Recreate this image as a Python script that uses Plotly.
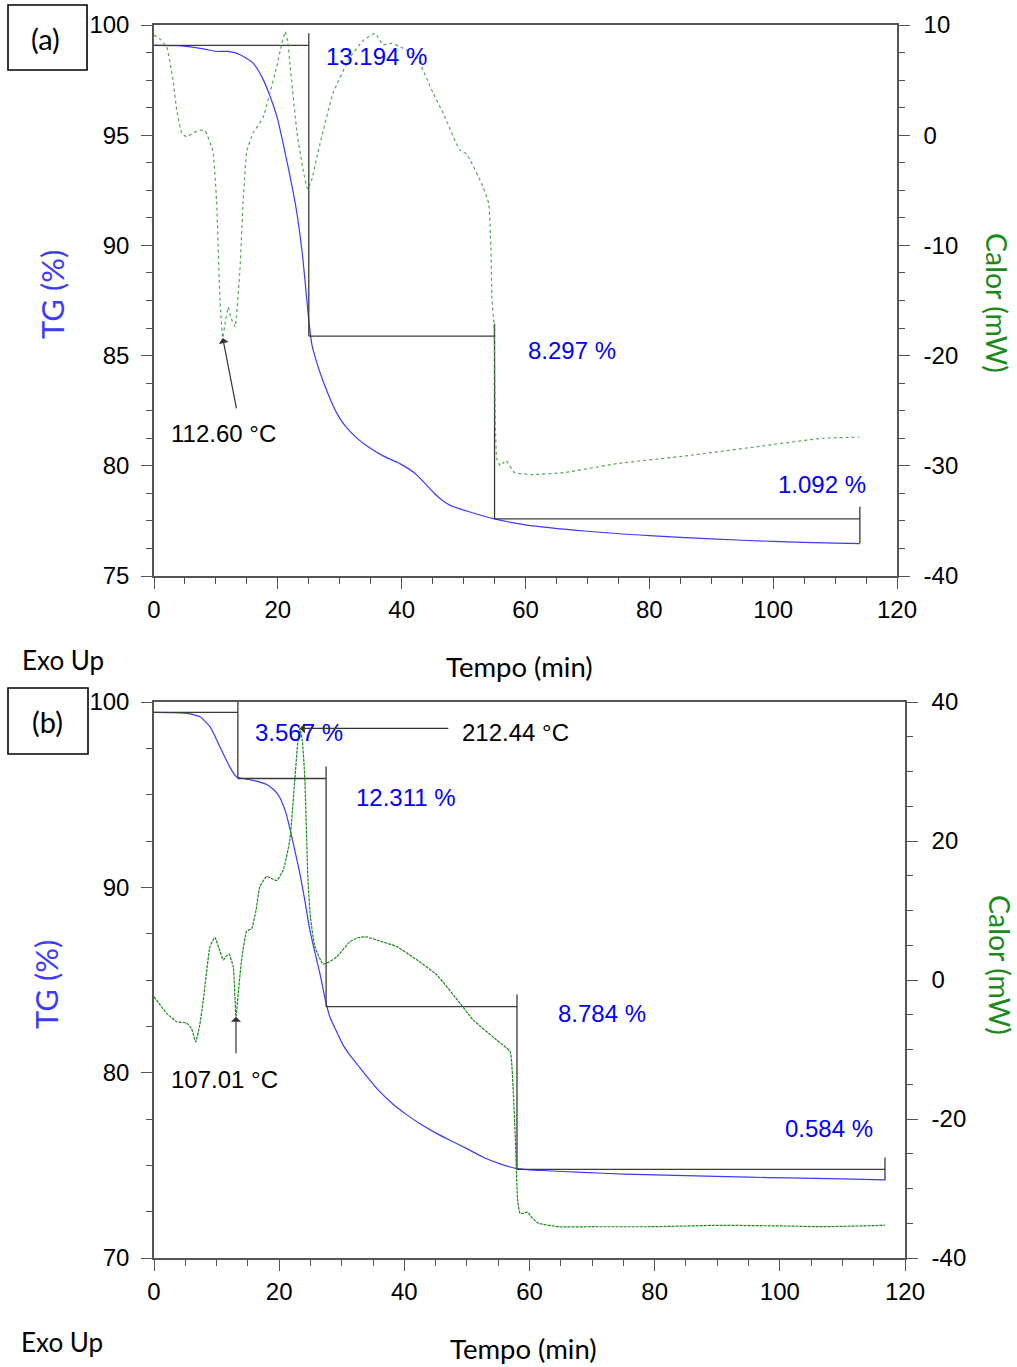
import plotly.graph_objects as go

W, H = 1017, 1367

# ---------------- Panel (a) ----------------
tg_a_t = [0, 4, 8, 10, 12, 14, 16, 17.5, 18.7, 19.9, 20.8, 22, 23, 24, 25, 25.5,
          26.5, 27.5, 28.5, 29.5, 30.5, 31.7, 33.0, 34.4, 37.0, 39.7, 42.2, 44.1,
          45.4, 46.7, 48.0, 50.5, 55, 60, 70, 80, 90, 100, 110, 114]
tg_a = [99.08, 99.06, 98.92, 98.80, 98.80, 98.64, 98.27, 97.6, 96.8, 95.8, 94.7,
        93.1, 91.6, 89.5, 86.6, 85.5, 84.5, 83.7, 83.0, 82.4, 81.95, 81.55, 81.2,
        80.9, 80.45, 80.1, 79.65, 79.1, 78.72, 78.4, 78.18, 77.95, 77.59, 77.32,
        77.03, 76.83, 76.68, 76.57, 76.49, 76.47]

dsc_a_t = [0, 1.0, 2.05, 3.07, 3.67, 4.47, 5.28, 6.3, 7.43, 8.24, 9.5, 10.1, 10.66,
           11.1, 11.5, 12.0, 12.4, 13.1, 13.9, 14.4, 15.0, 16.0, 17.6, 19.8, 20.6,
           21.2, 21.6, 22.0, 23.1, 24.1, 24.8, 25.5, 26.3, 28.9, 31.7, 33.8, 35.7,
           37.0, 38.4, 40.2, 42.4, 45.1, 46.7, 49.4, 50.5, 53.15, 54.05, 54.4, 54.6,
           54.9, 55.0, 55.15, 55.4, 55.97, 56.8, 58.2, 60.9, 66.5, 74.8, 85.9, 96.9,
           108.0, 113.9]
dsc_a = [9.1, 8.7, 8.0, 5.0, 2.3, 0.2, -0.15, 0.2, 0.45, 0.4, -1.4, -5.9, -15.0,
         -18.4, -17.0, -15.6, -16.5, -17.4, -12.0, -6.0, -1.4, 0.2, 1.6, 6.2, 8.2,
         9.4, 8.5, 6.2, 0.2, -3.2, -4.9, -4.0, -2.0, 3.8, 7.1, 8.6, 9.24, 8.2, 8.33,
         7.9, 7.1, 3.8, 2.0, -1.36, -1.7, -4.7, -6.2, -10.0, -15.0, -17.1, -20.0,
         -26.8, -29.5, -30.0, -29.5, -30.6, -30.8, -30.6, -29.8, -29.1, -28.3,
         -27.5, -27.4]

steps_a_t = [0, 25, 55, 114]
steps_a_loss = [13.194, 8.297, 1.092]
steps_a_start = 99.08
peak_a_label = "112.60 °C"

# ---------------- Panel (b) ----------------
tg_b_t = [0, 3, 5.2, 7.35, 8.95, 10.5, 12.1, 13.2, 14.8, 16.5, 18.0, 19.2, 20.1,
          21.0, 21.7, 22.5, 23.3, 24.1, 24.9, 25.7, 26.5, 27.4, 28.1, 29.2, 30.2,
          31.3, 32.6, 34.0, 36.0, 38.2, 40.3, 42.5, 45.0, 47.3, 50.0, 52.6, 55.3,
          58.0, 62, 68.5, 75, 84.9, 95, 101.3, 110, 116.8]
tg_b = [99.44, 99.43, 99.39, 99.2, 98.67, 97.6, 96.5, 95.95, 95.84, 95.72, 95.55,
        95.25, 94.85, 94.1, 93.2, 92.0, 90.75, 89.3, 87.7, 86.5, 85.36, 83.9, 83.0,
        82.2, 81.5, 80.95, 80.4, 79.8, 79.0, 78.3, 77.75, 77.24, 76.75, 76.35, 75.9,
        75.44, 75.08, 74.82, 74.72, 74.62, 74.53, 74.44, 74.36, 74.32, 74.27, 74.22]

dsc_b_t = [0, 2.03, 3.63, 5.22, 6.0, 6.66, 7.3, 7.88, 8.95, 9.74, 10.4, 11.07, 11.6,
           11.98, 12.67, 13.1, 13.5, 14.0, 14.8, 15.6, 16.3, 16.9, 18.0, 19.0, 19.6,
           20.65, 21.7, 22.5, 23.0, 23.3, 23.7, 24.1, 24.6, 25.0, 25.7, 27.0, 28.0,
           29.2, 31.3, 32.6, 34.0, 35.6, 38.8, 42.0, 45.2, 48.9, 51.0, 54.7, 56.9,
           57.4, 57.7, 58.1, 58.5, 58.9, 59.7, 60.5, 61.4, 64.7, 70.0, 79.4, 90.4,
           101.3, 106.8, 116.8]
dsc_b = [-2.4, -4.8, -6.0, -6.2, -7.0, -8.9, -6.5, -2.9, 4.8, 6.14, 4.5, 2.9, 3.5,
         3.74, 1.9, -5.3, -1.5, 2.9, 7.0, 7.4, 10.0, 13.4, 14.9, 14.5, 14.3, 15.8,
         20.1, 28.8, 34.5, 36.2, 34.5, 29.0, 14.4, 9.0, 4.8, 2.3, 2.6, 3.35, 5.5,
         6.1, 6.2, 5.75, 4.8, 2.9, 0.72, -3.35, -5.75, -8.6, -10.3, -16.0, -22.0,
         -31.7, -33.6, -33.6, -33.4, -34.3, -35.0, -35.5, -35.5, -35.5, -35.3,
         -35.4, -35.5, -35.3]

steps_b_t = [0, 13.4, 27.5, 58.0, 116.8]
steps_b_loss = [3.567, 12.311, 8.784, 0.584]
steps_b_start = 99.44
peak_b_low_label = "107.01 °C"
peak_b_high_label = "212.44 °C"

# Tick labels
x_ticks = [0, 20, 40, 60, 80, 100, 120]
tg_a_ticks = [75, 80, 85, 90, 95, 100]
dsc_a_ticks = [-40, -30, -20, -10, 0, 10]
tg_b_ticks = [70, 80, 90, 100]
dsc_b_ticks = [-40, -20, 0, 20, 40]

BLUE_LINE = "#3b3bff"
BLUE_TEXT = "#0000ff"
STEP = "#3a3a3a"
AXIS = "#555555"
NUM_FONT = "Liberation Sans, Arial, sans-serif"
LABEL_FONT = "Lato, Open Sans, sans-serif"


def step_path(ts, start, losses, overshoot):
    """Stair path marking each mass-loss step on the TG curve."""
    xs, ys = [], []
    level = start
    for i, loss in enumerate(losses):
        nxt = level - loss
        xs += [ts[i], ts[i + 1], None, ts[i + 1], ts[i + 1], None]
        ys += [level, level, None, level + overshoot, nxt, None]
        level = nxt
    return xs, ys


def px(xp):
    return xp / W


def py(yp):
    return 1 - yp / H


fig = go.Figure()

# TG curves
fig.add_trace(go.Scatter(x=tg_a_t, y=tg_a, mode="lines", xaxis="x", yaxis="y",
                         line=dict(color=BLUE_LINE, width=1.2, shape="spline", smoothing=0.6)))
fig.add_trace(go.Scatter(x=tg_b_t, y=tg_b, mode="lines", xaxis="x2", yaxis="y3",
                         line=dict(color=BLUE_LINE, width=1.2, shape="spline", smoothing=0.6)))

# step markers
sx, sy = step_path(steps_a_t, steps_a_start, steps_a_loss, 0.55)
fig.add_trace(go.Scatter(x=sx, y=sy, mode="lines", xaxis="x", yaxis="y",
                         line=dict(color=STEP, width=1.3)))
sx, sy = step_path(steps_b_t, steps_b_start, steps_b_loss, 0.65)
fig.add_trace(go.Scatter(x=sx, y=sy, mode="lines", xaxis="x2", yaxis="y3",
                         line=dict(color=STEP, width=1.3)))

# DSC curves
fig.add_trace(go.Scatter(x=dsc_a_t, y=dsc_a, mode="lines", xaxis="x", yaxis="y2",
                         line=dict(color="rgb(80,170,80)", width=1.2, dash="dot",
                                   shape="spline", smoothing=0.4)))
fig.add_trace(go.Scatter(x=dsc_b_t, y=dsc_b, mode="lines", xaxis="x2", yaxis="y4",
                         line=dict(color="rgb(20,140,20)", width=1.2, dash="3px,1px",
                                   shape="spline", smoothing=0.4)))

tick_common = dict(ticks="outside", ticklen=11, tickwidth=1.3, tickcolor=AXIS,
                   showline=True, linecolor=AXIS, linewidth=1.5, showgrid=False,
                   zeroline=False, tickfont=dict(family=NUM_FONT, size=24, color="black"),
                   automargin=False)


def minor(d):
    return dict(tickmode="linear", tick0=0, dtick=d, ticks="outside", ticklen=6,
                tickwidth=1.2, tickcolor=AXIS, showgrid=False)


def text_list(vals):
    return [str(v) for v in vals]


fig.update_layout(
    width=W, height=H, margin=dict(l=0, r=0, t=0, b=0),
    paper_bgcolor="white", plot_bgcolor="white", showlegend=False,
    xaxis=dict(domain=[px(154), px(897)], anchor="y", range=[0, 120],
               tickmode="array", tickvals=x_ticks, ticktext=text_list(x_ticks),
               mirror=True, minor=minor(5), ticklabelstandoff=0, **tick_common),
    yaxis=dict(domain=[py(576), py(25)], anchor="x", range=[75, 100],
               tickmode="array", tickvals=tg_a_ticks, ticktext=text_list(tg_a_ticks),
               minor=minor(1.25), ticklabelstandoff=7, **tick_common),
    yaxis2=dict(overlaying="y", side="right", anchor="x", range=[-40, 10],
                tickmode="array", tickvals=dsc_a_ticks, ticktext=text_list(dsc_a_ticks),
                minor=minor(2.5), ticklabelstandoff=9, **tick_common),
    xaxis2=dict(domain=[px(154), px(905)], anchor="y3", range=[0, 120],
                tickmode="array", tickvals=x_ticks, ticktext=text_list(x_ticks),
                mirror=True, minor=minor(5), ticklabelstandoff=0, **tick_common),
    yaxis3=dict(domain=[py(1258), py(702)], anchor="x2", range=[70, 100],
                tickmode="array", tickvals=tg_b_ticks, ticktext=text_list(tg_b_ticks),
                minor=minor(2.5), ticklabelstandoff=7, **tick_common),
    yaxis4=dict(overlaying="y3", side="right", anchor="x2", range=[-40, 40],
                tickmode="array", tickvals=dsc_b_ticks, ticktext=text_list(dsc_b_ticks),
                minor=minor(5), ticklabelstandoff=9, **tick_common),
)

ann = []
CENTER = dict(xanchor="center", yanchor="middle", showarrow=False)

# mass-loss labels, panel (a)
for (tx, ty), loss in zip([(35.9, 98.55), (67.5, 85.23), (107.9, 79.14)], steps_a_loss):
    ann.append(dict(x=tx, y=ty, xref="x", yref="y", text=f"{loss:.3f} %",
                    font=dict(family=NUM_FONT, size=24, color=BLUE_TEXT), **CENTER))
# mass-loss labels, panel (b)
for (tx, ty), loss in zip([(23.2, 98.38), (40.3, 94.87), (71.6, 83.2), (107.8, 77.0)],
                          steps_b_loss):
    ann.append(dict(x=tx, y=ty, xref="x2", yref="y3", text=f"{loss:.3f} %",
                    font=dict(family=NUM_FONT, size=24, color=BLUE_TEXT), **CENTER))

ARROW = dict(text="", showarrow=True, arrowhead=1, arrowsize=1.4, arrowwidth=1.2,
             arrowcolor="#333", standoff=0)

# peak markers
ia = min(range(len(dsc_a)), key=lambda i: dsc_a[i] if dsc_a_t[i] < 20 else 99)
ann.append(dict(x=dsc_a_t[ia], y=dsc_a[ia], xref="x", yref="y2", ax=14, ay=72, **ARROW))
ann.append(dict(x=11.3, y=81.45, xref="x", yref="y", text=peak_a_label,
                font=dict(family=NUM_FONT, size=24, color="black"), **CENTER))

ib_low = min(range(len(dsc_b)), key=lambda i: dsc_b[i] if 12 < dsc_b_t[i] < 14 else 99)
ann.append(dict(x=dsc_b_t[ib_low], y=dsc_b[ib_low], xref="x2", yref="y4", ax=0, ay=38,
                **ARROW))
ann.append(dict(x=11.3, y=79.65, xref="x2", yref="y3", text=peak_b_low_label,
                font=dict(family=NUM_FONT, size=24, color="black"), **CENTER))

ib_high = max(range(len(dsc_b)), key=lambda i: dsc_b[i])
ann.append(dict(x=dsc_b_t[ib_high], y=dsc_b[ib_high], xref="x2", yref="y4", ax=150, ay=0,
                **ARROW))
ann.append(dict(x=57.8, y=98.33, xref="x2", yref="y3", text=peak_b_high_label,
                font=dict(family=NUM_FONT, size=24, color="black"), **CENTER))

# axis titles and panel labels
for (xc, yc) in [(63, 660), (62, 1342)]:
    ann.append(dict(x=px(xc), y=py(yc), xref="paper", yref="paper", text="Exo Up",
                    font=dict(family=LABEL_FONT, size=26, color="black"), **CENTER))
for (xc, yc) in [(519, 667), (523, 1348)]:
    ann.append(dict(x=px(xc), y=py(yc), xref="paper", yref="paper", text="Tempo (min)",
                    font=dict(family=LABEL_FONT, size=27.5, color="black"), **CENTER))
for (xc, yc) in [(52, 295), (46, 985)]:
    ann.append(dict(x=px(xc), y=py(yc), xref="paper", yref="paper", text="TG (%)",
                    textangle=-90, font=dict(family=LABEL_FONT, size=31, color="#3b3bff"),
                    **CENTER))
for (xc, yc) in [(997, 303), (1000, 965)]:
    ann.append(dict(x=px(xc), y=py(yc), xref="paper", yref="paper", text="Calor (mW)",
                    textangle=90, font=dict(family=LABEL_FONT, size=28.5, color="#1a8a1a"),
                    **CENTER))
for (xc, yc, t) in [(45, 38, "(a)"), (47, 721, "(b)")]:
    ann.append(dict(x=px(xc), y=py(yc), xref="paper", yref="paper", text=t,
                    font=dict(family=LABEL_FONT, size=29, color="black"), **CENTER))

fig.update_layout(annotations=ann)

shapes = []
for (x0, y0, x1, y1) in [(8, 5, 87, 70), (8, 688, 88, 754)]:
    shapes.append(dict(type="rect", xref="paper", yref="paper",
                       x0=px(x0), x1=px(x1), y0=py(y1), y1=py(y0),
                       line=dict(color="black", width=1.6)))
fig.update_layout(shapes=shapes)

fig.write_html("out.html")
